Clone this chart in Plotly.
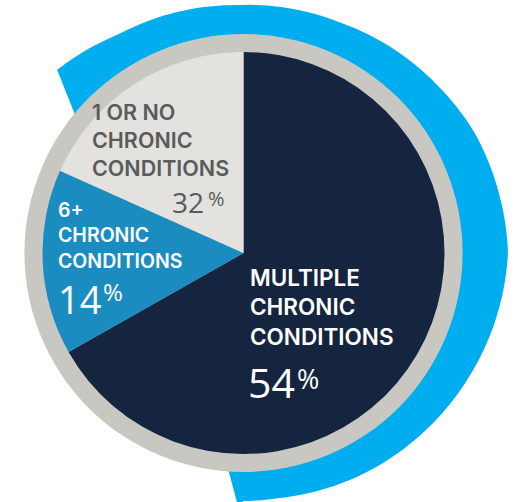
import numpy as np
import plotly.graph_objects as go

W, H = 520, 502

# ---- data -------------------------------------------------------------
categories = ["Multiple chronic conditions", "6+ chronic conditions", "1 or no chronic conditions"]
label_pct = [54, 14, 32]                 # percentages printed on the chart
drawn_share = [66.8, 14.9, 18.3]         # angular share of each slice as drawn in the picture
label_lines = [
    ["MULTIPLE", "CHRONIC", "CONDITIONS"],
    ["6+", "CHRONIC", "CONDITIONS"],
    ["1 OR NO", "CHRONIC", "CONDITIONS"],
]

# ---- styles -----------------------------------------------------------
slice_colors = ["#15253f", "#1a8cbf", "#e3e2df"]
text_colors = ["#ffffff", "#ffffff", "#595b5d"]
ring_color = "#c9c7c2"
blue = "#00aeef"
LABEL_FONT = "Inter"
NUM_FONT = "Open Sans"

CX, CY = 243.5, 253.0
R_IN, R_RING = 201.0, 219.0


def px(x):
    return x / W


def py(y):
    return 1 - y / H


def dom(r):
    return dict(x=[px(CX - r), px(CX + r)], y=[py(CY + r), py(CY - r)])


fig = go.Figure()

# grey rim
fig.add_trace(go.Pie(values=[1], labels=["rim"], marker=dict(colors=[ring_color], line=dict(width=0)),
                     domain=dom(R_RING), textinfo="none", hoverinfo="skip", sort=False, showlegend=False))

# main pie
fig.add_trace(go.Pie(values=drawn_share, labels=categories,
                     marker=dict(colors=slice_colors, line=dict(width=0)),
                     domain=dom(R_IN), textinfo="none", sort=False, direction="clockwise",
                     rotation=0, showlegend=False,
                     customdata=label_pct, hovertemplate="%{label}: %{customdata}%<extra></extra>"))

# ---- decorative blue swoosh behind the pie ------------------------------
ang_ctrl = [-135.5, -120, -91.5, -67, -40, -28, -12, 0, 30, 45, 81.5, 90]
rad_ctrl = [261.3, 252, 248, 250, 256.6, 260.4, 262.5, 264.5, 257, 254, 247.7, 248]
theta = np.linspace(-135.5, 90, 160)
rr = np.interp(theta, ang_ctrl, rad_ctrl)
pts = [(CX + r * np.cos(np.radians(t)), CY + r * np.sin(np.radians(t))) for t, r in zip(theta, rr)]
pts += [(238, 506), (227, 465), (205, 392), (CX, CY), (95, 165)]
path = "M " + " L ".join(f"{px(x):.5f},{py(y):.5f}" for x, y in pts) + " Z"
fig.add_shape(type="path", path=path, xref="paper", yref="paper",
              fillcolor=blue, line=dict(width=0), layer="below")

# ---- labels -------------------------------------------------------------
label_pos = [  # left x, block centre y, font size
    (248, 307, 22.5),
    (56, 235.5, 19.5),
    (90, 139.5, 21.5),
]
num_pos = [  # number: left x, centre y, size ; percent: left x, centre y, size
    ((246, 382, 41), (295, 378.5, 27)),
    ((56, 298.5, 38), (101, 291.5, 24)),
    ((170, 202, 28), (206, 198.5, 20)),
]

for i in range(3):
    lx, yc, fs = label_pos[i]
    fig.add_annotation(x=px(lx), y=py(yc), xref="paper", yref="paper",
                       text="<br>".join(label_lines[i]), align="left",
                       showarrow=False, xanchor="left", yanchor="middle",
                       font=dict(family=LABEL_FONT, size=fs, color=text_colors[i], weight=600))
    (nx, ny, ns), (qx, qy, qs) = num_pos[i]
    fig.add_annotation(x=px(nx), y=py(ny), xref="paper", yref="paper", text=str(label_pct[i]),
                       showarrow=False, xanchor="left", yanchor="middle",
                       font=dict(family=NUM_FONT, size=ns, color=text_colors[i], weight=400))
    fig.add_annotation(x=px(qx), y=py(qy), xref="paper", yref="paper", text="%",
                       showarrow=False, xanchor="left", yanchor="middle",
                       font=dict(family=NUM_FONT, size=qs, color=text_colors[i], weight=400))

fig.update_layout(width=W, height=H, margin=dict(l=0, r=0, t=0, b=0),
                  paper_bgcolor="white", plot_bgcolor="white")

fig.write_html("out.html")
